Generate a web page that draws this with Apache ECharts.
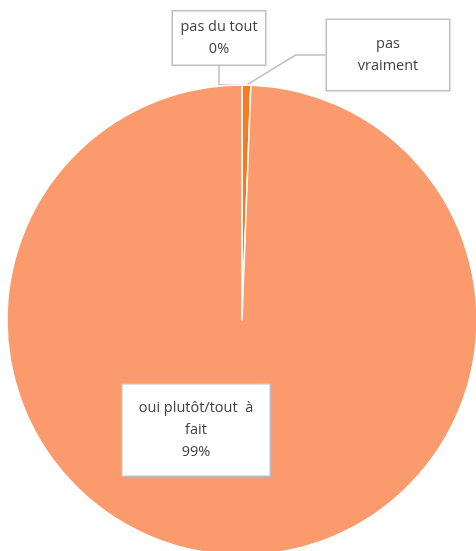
<!DOCTYPE html>
<html>
<head>
<meta charset="utf-8">
<script src="https://cdn.jsdelivr.net/npm/echarts@6/dist/echarts.min.js"></script>
<style>
html,body{margin:0;padding:0;background:#fff;}
#main{width:476px;height:551px;}
</style>
</head>
<body>
<div id="main"></div>
<script>
//数据
var categories = ['pas du tout', 'pas\nvraiment', 'oui plutôt/tout  à\nfait'];
var values = [0, 0.6, 99.4];
var pctLabels = ['0%', '', '99%'];
var colors = ['#C55A11', '#F47B22', '#FA9A6D'];
//标签框位置（中心）
var labelPos = [[219, 38], [388, 55], [196, 430]];
var labelW = [92, 122, 147];
var labelH = [53, 70, 91];

var myChart = echarts.init(document.getElementById('main'));
var data = [];
for (var i = 0; i < categories.length; i++) {
	data.push({
		name: categories[i],
		value: values[i],
		itemStyle: {color: colors[i]},
		label: {width: labelW[i], height: labelH[i]},
		labelLine: {show: i < 2}
	});
}
var option = {
	animation: false,
	series: [{
		type: 'pie',
		center: [242, 320],
		radius: 235,
		startAngle: 90,
		clockwise: true,
		data: data,
		itemStyle: {borderColor: '#fff', borderWidth: 1.5},
		label: {
			show: true,
			formatter: function (p) {
				var t = pctLabels[p.dataIndex];
				return t ? p.name + '\n' + t : p.name;
			},
			fontFamily: '"Open Sans", "Noto Sans", sans-serif',
			fontSize: 14.5,
			lineHeight: 22,
			color: '#404040',
			align: 'center',
			verticalAlign: 'middle',
			backgroundColor: '#fff',
			borderColor: '#BFBFBF',
			borderWidth: 1.5
		},
		labelLine: {
			show: true,
			lineStyle: {color: '#BFBFBF', width: 1.5}
		},
		labelLayout: function (p) {
			var i = p.dataIndex;
			return {
				x: labelPos[i][0],
				y: labelPos[i][1],
				align: 'center',
				verticalAlign: 'middle'
			};
		}
	}]
};
myChart.setOption(option);
</script>
</body>
</html>
